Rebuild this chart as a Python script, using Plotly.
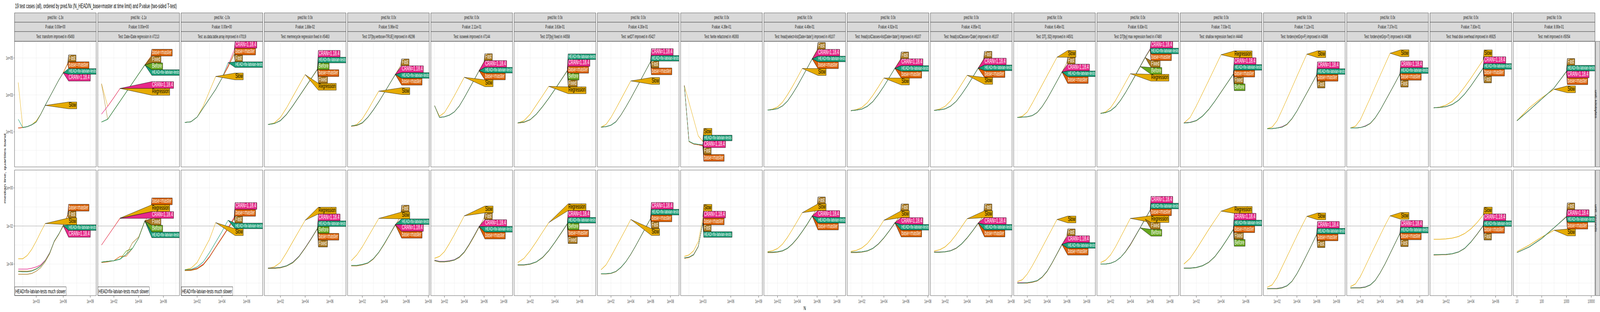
import math
import plotly.graph_objects as go

TITLE = "19 test cases (all), ordered by pred.Nx (N_HEAD/N_base=master at time limit) and P.value (two-sided T-test)"

# problem sizes N (half-decade steps); each series uses the first len(values) of them
N_VALUES = [10, 31.6, 100, 316, 1000, 3160, 10000, 31600, 100000, 316000, 1000000, 3160000]

TESTS = [
    "transform improved in #5493",
    "Date-IDate regression in #7213",
    "as.data.table.array improved in #7019",
    "memrecycle regression fixed in #5463",
    "DT[by,verbose=TRUE] improved in #6296",
    "isoweek improved in #7144",
    "DT[by] fixed in #4558",
    "setDT improved in #5427",
    "fwrite refactored in #6393",
    "fread(select=list(Date='date')) improved in #6107",
    "fread(colClasses=list(Date='date')) improved in #6107",
    "fread(colClasses='Date') improved in #6107",
    "DT[,.SD] improved in #4501",
    "DT[by] max regression fixed in #7480",
    "shallow regression fixed in #4440",
    "forderv(retGrp=F) improved in #4386",
    "forderv(retGrp=T) improved in #4386",
    "fread disk overhead improved in #6925",
    "melt improved in #5054",
]
PRED_NX = ["-1.3x", "-1.1x", "-1.0x"] + ["0.0x"] * 16
P_VALUES = ["0.00e+00", "0.00e+00", "0.00e+00", "1.88e-02", "5.96e-02", "2.11e-01",
            "3.63e-01", "4.30e-01", "4.39e-01", "4.49e-01", "4.92e-01", "4.95e-01",
            "6.46e-01", "6.83e-01", "7.03e-01", "7.12e-01", "7.37e-01", "7.83e-01", "8.90e-01"]
HEAD_MUCH_SLOWER = [True, True, True, False, False, False, False, False, False, False,
                    False, False, False, False, False, False, False, False, False]
UNITS = ["kilobytes", "seconds"]
SECONDS_LIMIT = 0.01

# ---- per test: kilobytes and seconds medians by version ----
kb_transform = {
    "Slow": [4700, 17, 19, 24, 39, 91, 270],
    "Fast": [16, 17, 19, 24, 34, 89, 275, 790, 2200, 6300, 15800, 52000],
    "CRAN": [16, 17, 19, 24, 34, 89, 275, 790, 2200, 6300, 15600],
    "base": [16, 17, 19, 24, 34, 89, 275, 790, 2200, 6300, 15800, 48000],
    "HEAD": [48, 17, 19, 24, 34, 89, 275, 790, 2200, 6300, 15800],
}
sec_transform = {
    "Slow": [1.9e-4, 1.9e-4, 2.8e-4, 5.9e-4, 1.6e-3, 4.8e-3, 1.35e-2],
    "Fast": [2.9e-5, 2.9e-5, 2.9e-5, 3.2e-5, 4.2e-5, 6.5e-5, 1.3e-4, 3.5e-4, 1.5e-3, 3.6e-3, 1.1e-2, 3.5e-2],
    "CRAN": [5.4e-5, 5.4e-5, 5.4e-5, 6.0e-5, 7.0e-5, 9.0e-5, 1.6e-4, 4.0e-4, 1.6e-3, 3.8e-3, 1.0e-2],
    "base": [4.3e-5, 4.2e-5, 4.2e-5, 4.5e-5, 5.6e-5, 8.0e-5, 1.5e-4, 3.8e-4, 1.5e-3, 3.6e-3, 1.0e-2, 4.0e-2],
    "HEAD": [4.1e-5, 3.9e-5, 3.9e-5, 4.3e-5, 5.4e-5, 7.8e-5, 1.5e-4, 3.9e-4, 1.6e-3, 3.8e-3, 1.07e-2],
}

kb_date_idate = {
    "Before": [34, 48, 148, 457, 1400, 4400, 13500, 41700],
    "Regression": [4000, 240, 720, 2240],
    "Fixed": [4000, 48, 150, 460, 1400, 4400, 13500, 42000],
    "CRAN": [91, 240, 720, 2240],
    "base": [34, 48, 148, 457, 1400, 4400, 13500, 41700, 126000],
    "HEAD": [34, 48, 148, 457, 1400, 4400, 13500, 41700],
}
sec_date_idate = {
    "Before": [1.26e-4, 1.4e-4, 1.5e-4, 1.8e-4, 4.8e-4, 6.6e-4, 2.3e-3, 1.8e-2],
    "Regression": [1.0e-3, 2.95e-3, 8.9e-3, 2.6e-2],
    "Fixed": [1.26e-4, 1.4e-4, 1.5e-4, 1.8e-4, 3.2e-4, 1.3e-3, 2.6e-3, 1.9e-2],
    "CRAN": [1.0e-3, 2.9e-3, 8.8e-3, 2.5e-2],
    "base": [1.2e-4, 1.3e-4, 1.5e-4, 2.5e-4, 2.6e-4, 6.6e-4, 2.3e-3, 1.7e-2, 6.5e-2],
    "HEAD": [1.26e-4, 1.4e-4, 1.5e-4, 1.8e-4, 3.2e-4, 6.6e-4, 2.3e-3, 1.8e-2],
}

kb_array = {
    "Slow": [32, 35, 63, 250, 1600, 10000],
    "Fast": [32, 35, 63, 200, 630, 2000, 7900, 31600, 158000],
    "CRAN": [32, 35, 63, 200, 630, 2000, 7900, 40000, 282000],
    "base": [32, 35, 63, 200, 630, 2000, 7900, 35500, 200000],
    "HEAD": [32, 35, 63, 200, 630, 2000, 7900, 56000],
}
sec_array = {
    "Slow": [5.0e-5, 6.0e-5, 1.2e-4, 5.0e-4, 2.0e-3, 1.5e-2],
    "Fast": [4.5e-5, 4.6e-5, 5.5e-5, 9.0e-5, 2.3e-4, 7.5e-4, 2.3e-3, 7.2e-3, 2.4e-2],
    "CRAN": [5.0e-5, 5.0e-5, 6.0e-5, 1.0e-4, 2.5e-4, 8.0e-4, 2.5e-3, 8.0e-3, 3.0e-2],
    "base": [4.8e-5, 4.9e-5, 5.8e-5, 9.5e-5, 2.4e-4, 7.8e-4, 2.4e-3, 7.6e-3, 2.6e-2],
    "HEAD": [5.0e-5, 5.2e-5, 7.0e-5, 1.3e-4, 4.0e-4, 1.4e-3, 5.0e-3, 2.0e-2],
}

kb_memrecycle = {
    "Before": [25, 28, 40, 90, 260, 800, 2500, 7900, 25000],
    "Regression": [25, 30, 60, 200, 800, 3200, 12600],
    "Fixed": [25, 28, 40, 88, 255, 790, 2500, 7800, 24000],
    "CRAN": [25, 28, 41, 90, 260, 810, 2550, 8000, 26000],
    "base": [25, 28, 40, 88, 250, 790, 2450, 7700, 24500],
    "HEAD": [25, 28, 40, 89, 255, 800, 2500, 7900, 25500],
}
sec_memrecycle = {
    "Before": [6.0e-5, 6.0e-5, 6.5e-5, 8.0e-5, 1.2e-4, 2.5e-4, 7.0e-4, 2.2e-3, 7.5e-3],
    "Regression": [6.0e-5, 7.0e-5, 1.2e-4, 4.0e-4, 1.5e-3, 5.5e-3, 2.0e-2],
    "Fixed": [5.8e-5, 5.9e-5, 6.3e-5, 7.8e-5, 1.15e-4, 2.4e-4, 6.8e-4, 2.1e-3, 7.2e-3],
    "CRAN": [6.2e-5, 6.3e-5, 6.7e-5, 8.2e-5, 1.25e-4, 2.6e-4, 7.3e-4, 2.3e-3, 7.8e-3],
    "base": [5.9e-5, 6.0e-5, 6.4e-5, 7.9e-5, 1.2e-4, 2.45e-4, 6.9e-4, 2.15e-3, 7.4e-3],
    "HEAD": [6.1e-5, 6.2e-5, 6.6e-5, 8.1e-5, 1.22e-4, 2.5e-4, 7.1e-4, 2.2e-3, 7.6e-3],
}

kb_verbose = {
    "Slow": [20, 25, 50, 150, 500, 1600],
    "Fast": [20, 22, 30, 60, 150, 420, 1300, 4000, 12600, 40000],
    "CRAN": [21, 23, 31, 62, 155, 430, 1330, 4100, 13000],
    "base": [20, 22, 30, 60, 150, 420, 1300, 4000, 12600],
    "HEAD": [21, 23, 31, 61, 152, 425, 1310, 4050, 12800],
}
sec_verbose = {
    "Slow": [1.5e-4, 3.0e-4, 8.0e-4, 2.5e-3, 8.0e-3, 2.5e-2],
    "Fast": [8.0e-5, 8.0e-5, 9.0e-5, 1.1e-4, 1.8e-4, 4.0e-4, 1.1e-3, 3.5e-3, 1.1e-2, 3.3e-2],
    "CRAN": [8.4e-5, 8.4e-5, 9.4e-5, 1.14e-4, 1.9e-4, 4.15e-4, 1.18e-3, 3.65e-3, 1.18e-2],
    "base": [8.2e-5, 8.2e-5, 9.2e-5, 1.12e-4, 1.85e-4, 4.1e-4, 1.15e-3, 3.6e-3, 1.15e-2],
    "HEAD": [8.5e-5, 8.5e-5, 9.5e-5, 1.15e-4, 1.9e-4, 4.2e-4, 1.2e-3, 3.7e-3, 1.2e-2],
}

kb_isoweek = {
    "Slow": [260, 70, 110, 300, 900, 2800, 9000],
    "Fast": [260, 60, 65, 80, 120, 250, 700, 2100, 6500, 20000, 63000],
    "CRAN": [260, 61, 66, 81, 122, 255, 710, 2150, 6700, 21000],
    "base": [260, 60, 65, 80, 120, 250, 700, 2100, 6500, 20000],
    "HEAD": [260, 60, 65, 80, 120, 250, 700, 2100, 6600, 20500],
}
sec_isoweek = {
    "Slow": [2.0e-4, 2.5e-4, 4.5e-4, 1.2e-3, 3.5e-3, 1.1e-2, 3.4e-2],
    "Fast": [1.5e-4, 1.3e-4, 1.3e-4, 1.4e-4, 1.6e-4, 2.2e-4, 4.0e-4, 1.0e-3, 2.8e-3, 8.5e-3, 2.6e-2],
    "CRAN": [1.6e-4, 1.4e-4, 1.4e-4, 1.5e-4, 1.7e-4, 2.4e-4, 4.4e-4, 1.12e-3, 3.2e-3, 9.6e-3],
    "base": [1.5e-4, 1.3e-4, 1.3e-4, 1.4e-4, 1.6e-4, 2.3e-4, 4.2e-4, 1.05e-3, 3.0e-3, 9.0e-3],
    "HEAD": [1.55e-4, 1.35e-4, 1.35e-4, 1.45e-4, 1.65e-4, 2.35e-4, 4.3e-4, 1.1e-3, 3.1e-3, 9.3e-3],
}

kb_dt_by = {
    "Before": [30, 33, 45, 90, 230, 650, 2000, 6300, 20000],
    "Regression": [30, 40, 90, 280, 900, 2900],
    "Fixed": [30, 33, 45, 90, 230, 650, 2000, 6300, 20000],
    "CRAN": [31, 34, 46, 92, 234, 660, 2040, 6400, 20800],
    "base": [30, 33, 45, 91, 232, 655, 2020, 6400, 20500],
    "HEAD": [31, 34, 46, 92, 235, 660, 2050, 6450, 21000],
}
sec_dt_by = {
    "Before": [9.0e-5, 9.0e-5, 1.0e-4, 1.3e-4, 2.2e-4, 5.0e-4, 1.4e-3, 4.2e-3, 1.3e-2],
    "Regression": [1.2e-4, 2.0e-4, 5.0e-4, 1.5e-3, 4.8e-3, 1.5e-2],
    "Fixed": [8.8e-5, 8.8e-5, 9.8e-5, 1.28e-4, 2.15e-4, 4.9e-4, 1.38e-3, 4.1e-3, 1.28e-2],
    "CRAN": [9.2e-5, 9.2e-5, 1.02e-4, 1.32e-4, 2.27e-4, 5.1e-4, 1.43e-3, 4.3e-3, 1.34e-2],
    "base": [8.9e-5, 8.9e-5, 9.9e-5, 1.29e-4, 2.2e-4, 4.95e-4, 1.4e-3, 4.15e-3, 1.3e-2],
    "HEAD": [9.1e-5, 9.1e-5, 1.01e-4, 1.31e-4, 2.25e-4, 5.05e-4, 1.42e-3, 4.25e-3, 1.32e-2],
}

kb_setdt = {
    "Slow": [18, 25, 60, 180, 570, 1800, 5700],
    "Fast": [18, 19, 23, 35, 80, 220, 650, 2000, 6300, 20000, 63000],
    "CRAN": [18, 19, 23, 36, 82, 225, 660, 2050, 6400, 20500, 65000],
    "base": [18, 19, 23, 35, 80, 220, 650, 2000, 6300, 20000, 63000],
    "HEAD": [18, 19, 23, 35, 81, 222, 655, 2020, 6350, 20200, 64000],
}
sec_setdt = {
    "Slow": [5.0e-5, 9.0e-5, 2.5e-4, 7.5e-4, 2.3e-3, 7.0e-3, 2.2e-2],
    "Fast": [3.0e-5, 3.0e-5, 3.2e-5, 4.0e-5, 6.5e-5, 1.3e-4, 3.2e-4, 9.0e-4, 2.7e-3, 8.0e-3, 2.4e-2],
    "CRAN": [3.1e-5, 3.1e-5, 3.3e-5, 4.1e-5, 6.7e-5, 1.33e-4, 3.3e-4, 9.3e-4, 2.8e-3, 8.3e-3, 2.5e-2],
    "base": [3.05e-5, 3.05e-5, 3.25e-5, 4.05e-5, 6.6e-5, 1.32e-4, 3.25e-4, 9.1e-4, 2.75e-3, 8.1e-3, 2.45e-2],
    "HEAD": [3.1e-5, 3.1e-5, 3.3e-5, 4.1e-5, 6.7e-5, 1.34e-4, 3.3e-4, 9.2e-4, 2.8e-3, 8.2e-3, 2.5e-2],
}

kb_fwrite = {
    "Slow": [3200, 400, 50, 6, 3.0],
    "Fast": [3200, 3.0, 2.2, 2.0, 1.8],
    "CRAN": [3200, 3.1, 2.2, 2.0, 1.9],
    "base": [3200, 3.0, 2.2, 2.0, 1.7],
    "HEAD": [3200, 3.1, 2.3, 2.1, 2.0],
}
sec_fwrite = {
    "Slow": [2.5e-4, 3.0e-4, 5.0e-4, 1.5e-3, 3.0e-2],
    "Fast": [2.0e-4, 2.2e-4, 3.0e-4, 8.0e-4, 1.5e-2],
    "CRAN": [2.1e-4, 2.3e-4, 3.2e-4, 8.6e-4, 1.6e-2],
    "base": [2.0e-4, 2.2e-4, 3.1e-4, 8.5e-4, 1.55e-2],
    "HEAD": [2.1e-4, 2.3e-4, 3.1e-4, 8.3e-4, 1.5e-2],
}

kb_fread_select = {
    "Slow": [150, 170, 220, 400, 1000, 2800, 8500, 27000],
    "Fast": [150, 160, 180, 250, 450, 1100, 3000, 9000, 28000, 88000, 280000],
    "CRAN": [150, 160, 181, 253, 458, 1120, 3050, 9200, 28800, 90000],
    "base": [150, 160, 180, 250, 450, 1100, 3000, 9000, 28000, 88000],
    "HEAD": [150, 160, 180, 252, 455, 1110, 3020, 9100, 28500, 89000],
}
sec_fread_select = {
    "Slow": [4.5e-4, 5.0e-4, 6.5e-4, 1.1e-3, 2.5e-3, 6.5e-3, 1.8e-2, 5.0e-2],
    "Fast": [4.0e-4, 4.0e-4, 4.2e-4, 4.8e-4, 6.5e-4, 1.1e-3, 2.2e-3, 5.0e-3, 1.2e-2, 3.2e-2, 9.0e-2],
    "CRAN": [4.2e-4, 4.2e-4, 4.4e-4, 5.0e-4, 6.8e-4, 1.15e-3, 2.3e-3, 5.25e-3, 1.28e-2, 3.4e-2],
    "base": [4.1e-4, 4.1e-4, 4.3e-4, 4.9e-4, 6.6e-4, 1.12e-3, 2.25e-3, 5.1e-3, 1.25e-2, 3.3e-2],
    "HEAD": [4.2e-4, 4.2e-4, 4.4e-4, 5.0e-4, 6.7e-4, 1.14e-3, 2.3e-3, 5.2e-3, 1.27e-2, 3.35e-2],
}

kb_fread_cc_list = {
    "Slow": [140, 160, 210, 380, 950, 2700, 8200],
    "Fast": [140, 150, 170, 240, 430, 1050, 2900, 8800, 27000, 85000],
    "CRAN": [140, 151, 172, 243, 438, 1070, 2960, 9000, 27800],
    "base": [140, 150, 170, 240, 432, 1055, 2920, 8850, 27200],
    "HEAD": [140, 150, 171, 242, 435, 1060, 2940, 8900, 27500],
}
sec_fread_cc_list = {
    "Slow": [4.6e-4, 5.2e-4, 7.0e-4, 1.2e-3, 2.8e-3, 7.0e-3, 2.0e-2],
    "Fast": [4.0e-4, 4.0e-4, 4.2e-4, 4.8e-4, 6.5e-4, 1.1e-3, 2.3e-3, 5.5e-3, 1.4e-2, 3.8e-2],
    "CRAN": [4.2e-4, 4.2e-4, 4.4e-4, 5.0e-4, 6.8e-4, 1.15e-3, 2.4e-3, 5.75e-3, 1.5e-2],
    "base": [4.1e-4, 4.1e-4, 4.3e-4, 4.9e-4, 6.6e-4, 1.12e-3, 2.35e-3, 5.6e-3, 1.45e-2],
    "HEAD": [4.2e-4, 4.2e-4, 4.4e-4, 5.0e-4, 6.7e-4, 1.14e-3, 2.4e-3, 5.7e-3, 1.48e-2],
}

kb_fread_cc_date = {
    "Slow": [145, 170, 240, 480, 1300, 3800, 11500],
    "Fast": [145, 155, 175, 245, 440, 1080, 2950, 8900, 27500, 86000],
    "CRAN": [145, 156, 177, 248, 448, 1100, 3000, 9100, 28200],
    "base": [145, 155, 175, 246, 442, 1085, 2960, 8950, 27600],
    "HEAD": [145, 155, 176, 247, 445, 1090, 2980, 9000, 27900],
}
sec_fread_cc_date = {
    "Slow": [4.8e-4, 5.6e-4, 8.0e-4, 1.5e-3, 3.5e-3, 9.0e-3, 2.4e-2],
    "Fast": [4.1e-4, 4.1e-4, 4.3e-4, 4.9e-4, 6.6e-4, 1.12e-3, 2.3e-3, 5.4e-3, 1.35e-2, 3.6e-2],
    "CRAN": [4.3e-4, 4.3e-4, 4.5e-4, 5.1e-4, 6.9e-4, 1.17e-3, 2.42e-3, 5.65e-3, 1.44e-2],
    "base": [4.2e-4, 4.2e-4, 4.4e-4, 5.0e-4, 6.7e-4, 1.14e-3, 2.35e-3, 5.5e-3, 1.4e-2],
    "HEAD": [4.2e-4, 4.2e-4, 4.4e-4, 5.0e-4, 6.8e-4, 1.15e-3, 2.4e-3, 5.6e-3, 1.42e-2],
}

kb_sd = {
    "Slow": [60, 70, 120, 350, 1100, 3500, 11000, 35000, 110000],
    "Fast": [60, 62, 65, 75, 110, 230, 600, 1800, 5500, 17000, 55000],
    "CRAN": [60, 62, 66, 76, 113, 236, 615, 1850, 5650, 17500],
    "base": [60, 62, 65, 75, 111, 232, 605, 1810, 5550, 17200],
    "HEAD": [60, 62, 66, 76, 112, 234, 610, 1830, 5600, 17400],
}
sec_sd = {
    "Slow": [1.2e-5, 1.5e-5, 3.0e-5, 8.0e-5, 2.4e-4, 7.5e-4, 2.3e-3, 7.0e-3, 2.2e-2],
    "Fast": [1.0e-5, 1.0e-5, 1.0e-5, 1.1e-5, 1.3e-5, 2.0e-5, 4.0e-5, 1.1e-4, 3.3e-4, 1.0e-3, 3.2e-3],
    "CRAN": [1.05e-5, 1.05e-5, 1.05e-5, 1.15e-5, 1.35e-5, 2.1e-5, 4.3e-5, 1.17e-4, 3.55e-4, 1.1e-3],
    "base": [1.0e-5, 1.0e-5, 1.0e-5, 1.1e-5, 1.3e-5, 2.0e-5, 4.1e-5, 1.12e-4, 3.4e-4, 1.05e-3],
    "HEAD": [1.0e-5, 1.0e-5, 1.05e-5, 1.15e-5, 1.35e-5, 2.1e-5, 4.2e-5, 1.15e-4, 3.5e-4, 1.08e-3],
}

kb_by_max = {
    "Before": [100, 110, 140, 230, 500, 1300, 3800, 11000, 34000],
    "Regression": [100, 120, 200, 500, 1500, 4500, 14000],
    "Fixed": [100, 110, 140, 230, 500, 1300, 3800, 11000, 34000, 105000],
    "CRAN": [100, 110, 140, 230, 500, 1300, 3800, 12000, 37000, 115000, 320000],
    "base": [100, 110, 140, 230, 500, 1300, 3800, 11000, 34000, 105000, 280000],
    "HEAD": [100, 110, 140, 230, 500, 1300, 3800, 11500, 36000, 110000, 300000],
}
sec_by_max = {
    "Before": [1.0e-4, 1.0e-4, 1.1e-4, 1.4e-4, 2.2e-4, 4.3e-4, 1.0e-3, 2.8e-3, 8.0e-3],
    "Regression": [1.2e-4, 1.6e-4, 3.0e-4, 8.0e-4, 2.5e-3, 8.0e-3, 2.5e-2],
    "Fixed": [1.0e-4, 1.0e-4, 1.1e-4, 1.4e-4, 2.2e-4, 4.3e-4, 1.0e-3, 2.8e-3, 8.0e-3, 2.3e-2],
    "CRAN": [1.0e-4, 1.0e-4, 1.1e-4, 1.4e-4, 2.2e-4, 4.5e-4, 1.1e-3, 3.0e-3, 8.5e-3, 2.5e-2, 7.0e-2],
    "base": [1.0e-4, 1.0e-4, 1.1e-4, 1.4e-4, 2.2e-4, 4.3e-4, 1.0e-3, 2.8e-3, 8.0e-3, 2.3e-2, 6.5e-2],
    "HEAD": [1.0e-4, 1.0e-4, 1.1e-4, 1.4e-4, 2.2e-4, 4.4e-4, 1.05e-3, 2.9e-3, 8.2e-3, 2.4e-2, 6.8e-2],
}

kb_shallow = {
    "Before": [30, 32, 40, 70, 160, 450, 1400, 4300, 13500],
    "Regression": [30, 60, 250, 1200, 6000, 30000, 150000],
    "Fixed": [30, 32, 40, 70, 161, 452, 1410, 4320, 13600],
    "CRAN": [31, 33, 41, 72, 164, 460, 1440, 4400, 13900],
    "base": [30, 32, 40, 71, 162, 455, 1420, 4350, 13700],
    "HEAD": [30, 32, 41, 71, 163, 458, 1430, 4380, 13800],
}
sec_shallow = {
    "Before": [6.0e-5, 6.0e-5, 6.5e-5, 8.0e-5, 1.2e-4, 2.4e-4, 6.5e-4, 2.0e-3, 6.5e-3],
    "Regression": [1.0e-4, 2.0e-4, 6.0e-4, 2.0e-3, 6.5e-3, 2.0e-2, 6.0e-2],
    "Fixed": [6.0e-5, 6.0e-5, 6.5e-5, 8.1e-5, 1.21e-4, 2.42e-4, 6.6e-4, 2.02e-3, 6.6e-3],
    "CRAN": [6.2e-5, 6.2e-5, 6.7e-5, 8.3e-5, 1.24e-4, 2.5e-4, 6.8e-4, 2.1e-3, 6.9e-3],
    "base": [6.1e-5, 6.1e-5, 6.6e-5, 8.2e-5, 1.22e-4, 2.45e-4, 6.7e-4, 2.05e-3, 6.7e-3],
    "HEAD": [6.1e-5, 6.1e-5, 6.6e-5, 8.2e-5, 1.23e-4, 2.47e-4, 6.75e-4, 2.07e-3, 6.8e-3],
}

kb_forder_f = {
    "Slow": [15, 18, 40, 150, 600, 2500, 10000, 40000, 160000],
    "Fast": [15, 15, 16, 18, 25, 50, 130, 400, 1200, 3800, 12000],
    "CRAN": [15, 15, 16, 19, 26, 52, 135, 415, 1250, 3950, 12500],
    "base": [15, 15, 16, 18, 25, 51, 132, 405, 1220, 3850, 12200],
    "HEAD": [15, 15, 16, 18, 26, 52, 134, 410, 1240, 3900, 12400],
}
sec_forder_f = {
    "Slow": [6.0e-6, 8.0e-6, 2.0e-5, 7.0e-5, 2.5e-4, 9.0e-4, 3.0e-3, 1.0e-2, 3.2e-2],
    "Fast": [5.0e-6, 5.0e-6, 5.0e-6, 5.5e-6, 7.0e-6, 1.2e-5, 3.0e-5, 9.0e-5, 3.0e-4, 1.0e-3, 3.5e-3],
    "CRAN": [5.2e-6, 5.2e-6, 5.3e-6, 5.8e-6, 7.3e-6, 1.25e-5, 3.15e-5, 9.5e-5, 3.15e-4, 1.05e-3, 3.7e-3],
    "base": [5.0e-6, 5.0e-6, 5.1e-6, 5.6e-6, 7.1e-6, 1.22e-5, 3.05e-5, 9.2e-5, 3.05e-4, 1.02e-3, 3.6e-3],
    "HEAD": [5.1e-6, 5.1e-6, 5.2e-6, 5.7e-6, 7.2e-6, 1.24e-5, 3.1e-5, 9.4e-5, 3.1e-4, 1.04e-3, 3.65e-3],
}

kb_forder_t = {
    "Slow": [16, 20, 45, 170, 680, 2800, 11000, 45000, 180000],
    "Fast": [16, 16, 17, 20, 28, 56, 145, 440, 1350, 4200, 13500],
    "CRAN": [16, 16, 17, 21, 29, 58, 151, 455, 1400, 4350, 14000],
    "base": [16, 16, 17, 20, 28, 57, 147, 445, 1370, 4250, 13700],
    "HEAD": [16, 16, 17, 20, 29, 58, 150, 450, 1390, 4300, 13900],
}
sec_forder_t = {
    "Slow": [6.5e-6, 9.0e-6, 2.2e-5, 7.5e-5, 2.7e-4, 9.5e-4, 3.2e-3, 1.1e-2, 3.4e-2],
    "Fast": [5.5e-6, 5.5e-6, 5.5e-6, 6.0e-6, 7.8e-6, 1.35e-5, 3.4e-5, 1.0e-4, 3.4e-4, 1.15e-3, 4.0e-3],
    "CRAN": [5.7e-6, 5.7e-6, 5.8e-6, 6.3e-6, 8.1e-6, 1.4e-5, 3.55e-5, 1.05e-4, 3.55e-4, 1.2e-3, 4.15e-3],
    "base": [5.5e-6, 5.5e-6, 5.6e-6, 6.1e-6, 7.9e-6, 1.37e-5, 3.45e-5, 1.02e-4, 3.45e-4, 1.17e-3, 4.05e-3],
    "HEAD": [5.6e-6, 5.6e-6, 5.7e-6, 6.2e-6, 8.0e-6, 1.39e-5, 3.5e-5, 1.04e-4, 3.5e-4, 1.19e-3, 4.1e-3],
}

kb_fread_disk = {
    "Slow": [200, 220, 280, 450, 1000, 2700, 8000, 25000, 80000],
    "Fast": [200, 210, 230, 300, 500, 1100, 3000, 9000, 28000],
    "CRAN": [201, 212, 233, 305, 510, 1125, 3070, 9250, 28800],
    "base": [200, 210, 231, 302, 505, 1110, 3030, 9100, 28300],
    "HEAD": [200, 211, 232, 304, 508, 1120, 3050, 9200, 28600],
}
sec_fread_disk = {
    "Slow": [2.0e-3, 2.0e-3, 2.1e-3, 2.3e-3, 2.8e-3, 4.0e-3, 7.0e-3, 1.5e-2, 3.8e-2],
    "Fast": [3.0e-4, 3.0e-4, 3.1e-4, 3.4e-4, 4.2e-4, 6.5e-4, 1.4e-3, 3.6e-3, 1.0e-2],
    "CRAN": [3.1e-4, 3.1e-4, 3.2e-4, 3.5e-4, 4.35e-4, 6.75e-4, 1.45e-3, 3.75e-3, 1.05e-2],
    "base": [3.0e-4, 3.0e-4, 3.1e-4, 3.45e-4, 4.25e-4, 6.6e-4, 1.42e-3, 3.65e-3, 1.02e-2],
    "HEAD": [3.1e-4, 3.1e-4, 3.2e-4, 3.5e-4, 4.3e-4, 6.7e-4, 1.44e-3, 3.7e-3, 1.04e-2],
}

kb_melt = {
    "Slow": [40, 200, 700, 2000],
    "Fast": [40, 150, 600, 2400, 19000],
    "CRAN": [40, 150, 600, 2400, 18500],
    "base": [40, 150, 600, 2400, 18000],
    "HEAD": [40, 150, 600, 2400, 19000],
}
sec_melt = {
    "Slow": [4.5e-4, 1.0e-3, 2.6e-3, 6.0e-3],
    "Fast": [4.0e-4, 8.0e-4, 2.2e-3, 8.0e-3, 3.2e-2],
    "CRAN": [4.0e-4, 8.0e-4, 2.2e-3, 8.0e-3, 3.1e-2],
    "base": [4.0e-4, 8.0e-4, 2.2e-3, 8.0e-3, 3.0e-2],
    "HEAD": [4.0e-4, 8.0e-4, 2.2e-3, 8.0e-3, 3.0e-2],
}

PANELS = [
    (kb_transform, sec_transform), (kb_date_idate, sec_date_idate), (kb_array, sec_array),
    (kb_memrecycle, sec_memrecycle), (kb_verbose, sec_verbose), (kb_isoweek, sec_isoweek),
    (kb_dt_by, sec_dt_by), (kb_setdt, sec_setdt), (kb_fwrite, sec_fwrite),
    (kb_fread_select, sec_fread_select), (kb_fread_cc_list, sec_fread_cc_list),
    (kb_fread_cc_date, sec_fread_cc_date), (kb_sd, sec_sd), (kb_by_max, sec_by_max),
    (kb_shallow, sec_shallow), (kb_forder_f, sec_forder_f), (kb_forder_t, sec_forder_t),
    (kb_fread_disk, sec_fread_disk), (kb_melt, sec_melt),
]

# ---- styling ----
VERSION_COLORS = {"HEAD": "#1B9E77", "base": "#D95F02", "CRAN": "#E7298A", "Before": "#66A61E",
                  "Regression": "#E6AB02", "Slow": "#E6AB02", "Fixed": "#A6761D", "Fast": "#A6761D"}
VERSION_LABELS = {"HEAD": "HEAD=fix-latvian-tests", "base": "base=master", "CRAN": "CRAN=1.18.4",
                  "Before": "Before", "Regression": "Regression", "Slow": "Slow",
                  "Fixed": "Fixed", "Fast": "Fast"}
DARK_TEXT = {"Slow", "Regression"}
DRAW_ORDER = ["Before", "Regression", "Slow", "Fixed", "Fast", "CRAN", "base", "HEAD"]
FONT = "Liberation Sans, Arial, Helvetica, sans-serif"

W, H = 7600, 800
PANEL_X0, PANEL_W, PANEL_GAP = 69, 388, 7.5
ROW_Y = [(106, 428), (436, 758)]
STRIP_Y = [(33, 57), (57, 81), (81, 106)]
Y_RANGES = [(-0.9, 5.9), (-5.66, 0.94)]
XMAX_LOG_OVERRIDE = {8: 9.0}

# approximate Arial / Liberation Sans advance widths (1/1000 em)
CHAR_W = {'A': 667, 'B': 667, 'C': 722, 'D': 722, 'E': 667, 'F': 611, 'H': 722, 'N': 722,
          'R': 722, 'S': 667, 'a': 556, 'b': 556, 'c': 500, 'd': 556, 'e': 556, 'f': 278,
          'g': 556, 'h': 556, 'i': 222, 'k': 500, 'l': 222, 'm': 833, 'n': 556, 'o': 556,
          'r': 333, 's': 500, 't': 278, 'v': 500, 'w': 722, 'x': 500, '=': 584, '.': 278,
          '-': 333}


def text_w(s, size):
    return sum(CHAR_W.get(c, 556) for c in s) * size / 1000.0


def px(x):
    return x / W


def py(y):
    return 1 - y / H


def log_breaks(lo, hi, n=5):
    a, b = math.floor(lo), math.ceil(hi)
    by = (b - a) // n + 1
    while True:
        seq = list(range(a, b + 1, by))
        inside = [e for e in seq if lo <= e <= hi]
        if len(inside) >= n - 2 or by == 1:
            break
        by -= 1
    full = [seq[0] - by] + seq + [seq[-1] + by]
    minor = [(full[j] + full[j + 1]) / 2 for j in range(len(full) - 1)]
    minor = [m for m in minor if lo <= m <= hi]
    return inside, minor


def fmt_breaks(exps):
    fixed = [("%d" % 10 ** e) if e >= 0 else ("%.*f" % (-e, 10.0 ** e)) for e in exps]
    if max(len(s) for s in fixed) <= 5:
        return fixed
    return ["1e%+03d" % e for e in exps]


def spread(targets, heights):
    # pool overlapping labels into groups centred on their targets
    groups = []

    def place(s, e):
        offs, acc = [], 0.0
        for j in range(s, e + 1):
            offs.append(acc + heights[j] / 2)
            acc += heights[j]
        top = sum(targets[j] - offs[j - s] for j in range(s, e + 1)) / (e - s + 1)
        return top, acc

    for j in range(len(targets)):
        groups.append([j, j])
        while len(groups) > 1:
            t1, h1 = place(*groups[-2])
            t2, _ = place(*groups[-1])
            if t1 + h1 > t2:
                groups[-2:] = [[groups[-2][0], groups[-1][1]]]
            else:
                break
    centers = []
    for s, e in groups:
        top, _ = place(s, e)
        acc = top
        for j in range(s, e + 1):
            centers.append(acc + heights[j] / 2)
            acc += heights[j]
    return centers


def axis_ids(i):
    s = "" if i == 1 else str(i)
    return "x" + s, "y" + s, "xaxis" + s, "yaxis" + s


fig = go.Figure()
axes_layout = {}
shapes, annotations = [], []

for k, (kb, sec) in enumerate(PANELS):
    left = PANEL_X0 + k * (PANEL_W + PANEL_GAP)
    n_all = [N_VALUES[len(v) - 1] for v in kb.values()]
    lo = math.log10(N_VALUES[0])
    hi = math.log10(max(n_all))
    upper = XMAX_LOG_OVERRIDE.get(k, hi + 0.5 * (hi - lo))
    pad = 0.05 * (upper - lo)
    xr = (lo - pad, upper + pad)
    xb, xminor = log_breaks(*xr)

    # facet strips
    for s, txt in enumerate(["pred.Nx: " + PRED_NX[k], "P.value: " + P_VALUES[k], "Test: " + TESTS[k]]):
        y0, y1 = STRIP_Y[s]
        shapes.append(dict(type="rect", xref="paper", yref="paper", x0=px(left), x1=px(left + PANEL_W),
                           y0=py(y1), y1=py(y0), fillcolor="#D9D9D9", line=dict(color="#333333", width=1),
                           layer="below"))
        annotations.append(dict(xref="paper", yref="paper", x=px(left + PANEL_W / 2), y=py((y0 + y1) / 2),
                                text=txt, showarrow=False, xanchor="center", yanchor="middle",
                                font=dict(family=FONT, size=12, color="#1A1A1A")))

    for r, series in enumerate([kb, sec]):
        i = r * 19 + k + 1
        xid, yid, xkey, ykey = axis_ids(i)
        yr = Y_RANGES[r]
        yb, yminor = log_breaks(*yr)
        top_px, bot_px = ROW_Y[r]
        axes_layout[xkey] = dict(
            domain=[px(left), px(left + PANEL_W)], anchor=yid, type="log", range=list(xr),
            tickmode="array", tickvals=[10.0 ** e for e in xb], ticktext=fmt_breaks(xb),
            showticklabels=(r == 1), ticks="outside" if r == 1 else "", ticklen=4,
            tickcolor="#333333", tickwidth=1, tickfont=dict(family=FONT, size=12, color="#4D4D4D"),
            showgrid=True, gridcolor="#EBEBEB", gridwidth=1.1, zeroline=False, showline=False,
            minor=dict(tickmode="array", tickvals=[10.0 ** e for e in xminor], showgrid=True,
                       gridcolor="#EBEBEB", gridwidth=0.55, ticks=""),
            fixedrange=True, automargin=False)
        axes_layout[ykey] = dict(
            domain=[py(bot_px), py(top_px)], anchor=xid, type="log", range=list(yr),
            tickmode="array", tickvals=[10.0 ** e for e in yb], ticktext=fmt_breaks(yb),
            showticklabels=(k == 0), ticks="outside" if k == 0 else "", ticklen=4,
            tickcolor="#333333", tickwidth=1, tickfont=dict(family=FONT, size=12, color="#4D4D4D"),
            showgrid=True, gridcolor="#EBEBEB", gridwidth=1.1, zeroline=False, showline=False,
            minor=dict(tickmode="array", tickvals=[10.0 ** e for e in yminor], showgrid=True,
                       gridcolor="#EBEBEB", gridwidth=0.55, ticks=""),
            fixedrange=True, automargin=False)

        # panel border
        shapes.append(dict(type="rect", xref=xid + " domain", yref=yid + " domain", x0=0, x1=1, y0=0, y1=1,
                           line=dict(color="#333333", width=1), fillcolor="rgba(0,0,0,0)", layer="above"))

        if r == 1:
            fig.add_trace(go.Scatter(x=[10 ** xr[0], 10 ** xr[1]], y=[SECONDS_LIMIT, SECONDS_LIMIT],
                                     xaxis=xid, yaxis=yid, mode="lines", line=dict(color="#BEBEBE", width=1.6),
                                     hoverinfo="skip", showlegend=False))

        versions = [v for v in DRAW_ORDER if v in series]
        for v in versions:
            vals = series[v]
            fig.add_trace(go.Scatter(x=N_VALUES[:len(vals)], y=vals, xaxis=xid, yaxis=yid, mode="lines",
                                     line=dict(color=VERSION_COLORS[v], width=1.5),
                                     name=VERSION_LABELS[v], hoverinfo="skip", showlegend=False))

        # direct labels: boxes with a wedge back to each line end
        ppx = PANEL_W / (xr[1] - xr[0])
        hpx = bot_px - top_px
        ppy = hpx / (yr[1] - yr[0])
        ends = []
        for v in versions:
            vals = series[v]
            ex = (math.log10(N_VALUES[len(vals) - 1]) - xr[0]) * ppx
            ey = (yr[1] - math.log10(vals[-1])) * ppy
            ends.append((ey, ex, v))
        ends.sort()
        box_x0 = max(e[1] for e in ends) + 4
        sizes = [13 if e[2] == "HEAD" else 16 for e in ends]
        heights = [s + 1.5 for s in sizes]
        centers = spread([e[0] for e in ends], heights)
        centers[0] = max(centers[0], heights[0] / 2)
        for j in range(1, len(centers)):
            centers[j] = max(centers[j], centers[j - 1] + (heights[j - 1] + heights[j]) / 2)
        centers[-1] = min(centers[-1], hpx - heights[-1] / 2)
        for j in range(len(centers) - 2, -1, -1):
            centers[j] = min(centers[j], centers[j + 1] - (heights[j] + heights[j + 1]) / 2)

        def to_x(p):
            return 10 ** (xr[0] + p / ppx)

        def to_y(p):
            return 10 ** (yr[1] - p / ppy)

        tx, ty, tt, tc, ts = [], [], [], [], []
        for (ey, ex, v), c, hgt, fs in zip(ends, centers, heights, sizes):
            label = VERSION_LABELS[v]
            bw = text_w(label, fs) + 4
            ytop, ybot = c - hgt / 2, c + hgt / 2
            xs = [ex, box_x0, box_x0 + bw, box_x0 + bw, box_x0, ex]
            ys = [ey, ytop, ytop, ybot, ybot, ey]
            fig.add_trace(go.Scatter(x=[to_x(p) for p in xs], y=[to_y(p) for p in ys], xaxis=xid, yaxis=yid,
                                     mode="lines", fill="toself", fillcolor=VERSION_COLORS[v],
                                     line=dict(color="black", width=0.9), hoverinfo="skip", showlegend=False))
            tx.append(to_x(box_x0 + 1))
            ty.append(to_y(c))
            tt.append(label)
            tc.append("black" if v in DARK_TEXT else "white")
            ts.append(fs)
        fig.add_trace(go.Scatter(x=tx, y=ty, xaxis=xid, yaxis=yid, mode="text", text=tt,
                                 textposition="middle right", cliponaxis=True,
                                 textfont=dict(family=FONT, size=ts, color=tc),
                                 hoverinfo="skip", showlegend=False))

        if r == 1 and HEAD_MUCH_SLOWER[k]:
            annotations.append(dict(xref=xid + " domain", yref=yid + " domain", x=0.002, y=0.0,
                                    xanchor="left", yanchor="bottom", showarrow=False,
                                    text="HEAD=fix-latvian-tests much slower",
                                    font=dict(family=FONT, size=15, color="black"),
                                    bgcolor="white", bordercolor="#333333", borderwidth=1, borderpad=2))

# right-hand unit strips
right = PANEL_X0 + 19 * PANEL_W + 18 * PANEL_GAP
for r, unit in enumerate(UNITS):
    y0, y1 = ROW_Y[r]
    shapes.append(dict(type="rect", xref="paper", yref="paper", x0=px(right + 3), x1=px(right + 24),
                       y0=py(y1), y1=py(y0), fillcolor="#D9D9D9", line=dict(color="#333333", width=1),
                       layer="below"))
    annotations.append(dict(xref="paper", yref="paper", x=px(right + 13.5), y=py((y0 + y1) / 2),
                            text="unit: " + unit, textangle=90, showarrow=False,
                            font=dict(family=FONT, size=12, color="#1A1A1A")))

annotations.append(dict(xref="paper", yref="paper", x=px(PANEL_X0), y=py(16), text=TITLE,
                        showarrow=False, xanchor="left", yanchor="middle",
                        font=dict(family=FONT, size=16, color="black")))
annotations.append(dict(xref="paper", yref="paper", x=px(12), y=py((ROW_Y[0][0] + ROW_Y[1][1]) / 2),
                        text="median line, quartiles band", textangle=-90, showarrow=False,
                        font=dict(family=FONT, size=15, color="black")))
annotations.append(dict(xref="paper", yref="paper", x=px((PANEL_X0 + right) / 2), y=py(789), text="N",
                        showarrow=False, xanchor="center", yanchor="middle",
                        font=dict(family=FONT, size=15, color="black")))

fig.update_layout(
    width=W, height=H, margin=dict(l=0, r=0, t=0, b=0),
    paper_bgcolor="white", plot_bgcolor="white", template="none",
    showlegend=False, shapes=shapes, annotations=annotations,
    font=dict(family=FONT),
    **axes_layout
)

# drop the page margin and fit the fixed-size figure into the actual window
FIT_JS = """
document.documentElement.style.margin = '0';
document.body.style.margin = '0';
document.body.style.overflow = 'hidden';
var gd = document.getElementById('{plot_id}');
var sx = window.innerWidth / %d, sy = window.innerHeight / %d;
gd.style.transformOrigin = '0 0';
gd.style.transform = 'scale(' + sx + ',' + sy + ')';
""" % (W, H)

fig.write_html("out.html", config={"displayModeBar": False}, post_script=FIT_JS)
